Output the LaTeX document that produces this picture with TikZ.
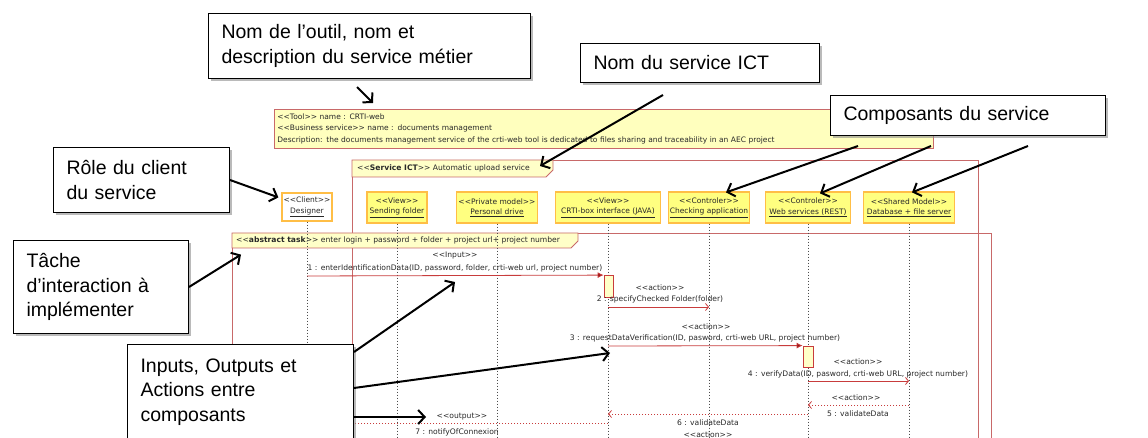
\documentclass[tikz,border=0pt]{standalone}
\usepackage{fontspec}
\setmainfont{Liberation Sans}
\newfontfamily\tahoma{DejaVu Sans}
\usetikzlibrary{arrows.meta,shadows,calc}
\definecolor{frameC}{RGB}{200,105,105}
\definecolor{msgC}{RGB}{200,60,60}
\definecolor{headC}{RGB}{150,20,20}
\definecolor{tabfill}{RGB}{255,255,200}
\definecolor{toolfill}{RGB}{255,255,190}
\definecolor{llfill}{RGB}{255,255,128}
\definecolor{llborder}{RGB}{255,190,70}
\definecolor{shadowC}{RGB}{140,140,140}
\definecolor{txtC}{RGB}{40,40,40}
\newcommand\st[1]{<{}<#1>{}>}
\begin{document}
\begin{tikzpicture}[x=1pt,y=-1pt,
  callout/.style={draw=black, line width=1pt, fill=white, anchor=north west, inner xsep=13pt, inner ysep=0pt, align=left,
    drop shadow={shadow xshift=2.5pt,shadow yshift=-2.5pt,fill=shadowC,opacity=0.6},
    font=\fontsize{19.5}{24.5}\selectfont},
  callarrow/.style={draw=black, line width=2pt, -{Straight Barb[length=6.5pt,width=14pt]}},
  frame/.style={draw=frameC, line width=0.8pt},
  small/.style={font=\tahoma\fontsize{7.6}{9}\selectfont, text=txtC, inner sep=0pt},
  tabtext/.style={font=\tahoma\fontsize{7.6}{9}\selectfont, text=txtC, inner sep=0pt, anchor=west},
  llbox/.style={draw=llborder, fill=llfill, line width=1.2pt, minimum height=31pt, align=center, inner sep=1pt,
    font=\tahoma\fontsize{7.5}{10.5}\selectfont, text=txtC},
  lifeline/.style={draw=black!70, line width=0.7pt, dash pattern=on 1.5pt off 1.5pt},
  msg/.style={draw=msgC, line width=0.8pt},
  sync/.style={msg, -{Latex[length=6pt,width=6pt,fill=headC]}},
  async/.style={msg, -{Straight Barb[length=3pt,width=7pt]}},
  ret/.style={msg, dash pattern=on 1.5pt off 1.5pt, -{Straight Barb[length=3pt,width=7pt]}},
  act/.style={draw=msgC, fill=tabfill, line width=0.8pt, inner sep=0pt}
]
\useasboundingbox (0,0) rectangle (1148,438);
\clip (0,0) rectangle (1148,438);
\coordinate (bottom) at (0,450);

% tool box
\node[draw=frameC, line width=0.8pt, fill=toolfill, anchor=north west, minimum width=659pt, minimum height=39pt,
  text width=653pt, inner xsep=3pt, inner ysep=0pt, align=left, font=\tahoma\fontsize{7.5}{11.5}\selectfont, text=txtC] (tool) at (274,109)
  {\st{Tool} name : CRTI-web\\
   \st{Business service} name : documents management\\
   Description: the documents management service of the crti-web tool is dedicated to files sharing and traceability in an AEC project};

% Service ICT frame
\draw[frame] (352,160) rectangle (978,450);
\draw[frame, fill=tabfill] (352,160) -- (553,160) -- (553,170) -- (546,177) -- (352,177) -- cycle;
\node[tabtext] (ictlabel) at (357,168.5) {\st{\textbf{Service ICT}} Automatic upload service};

% abstract task frame
\draw[frame] (232,233) rectangle (991,450);
\draw[frame, fill=tabfill] (232,233) -- (578,233) -- (578,241) -- (571,248) -- (232,248) -- cycle;
\node[tabtext] (tasklabel) at (236,240.5) {\st{\textbf{abstract task}} enter login + password + folder + project url+ project number};

% lifeline heads
\node[llbox, fill=white, minimum width=50pt, minimum height=28pt] (designer) at (307,207) {\st{Client}\\\underline{Designer}};
\node[llbox, minimum width=60pt] (sf) at (397,207.5) {\st{View}\\\underline{Sending folder}};
\node[llbox, minimum width=81pt] (pd) at (497,207.5) {\st{Private model}\\\underline{Personal drive}};
\node[llbox, minimum width=105pt] (crti) at (608,207.5) {\st{View}\\\underline{CRTI-box interface (JAVA)}};
\node[llbox, minimum width=81pt] (chk) at (709,207.5) {\st{Controler}\\\underline{Checking application}};
\node[llbox, minimum width=85pt] (ws) at (808,207.5) {\st{Controler}\\\underline{Web services (REST)}};
\node[llbox, minimum width=91pt] (db) at (909,207.5) {\st{Shared Model}\\\underline{Database + file server}};

\foreach \n in {designer,sf,pd,crti,chk,ws,db}
  \draw[lifeline] (\n.south) -- (\n.south |- bottom);

% activations
\node[act, minimum width=9pt, minimum height=22pt] (act1) at (608.5,286.5) {};
\node[act, minimum width=10pt, minimum height=21pt] (act3) at (808,356.5) {};

% messages
\coordinate (m1) at (0,276);
\draw[sync] (designer |- m1) -- (act1.north west);
\node[small] (l1a) at (455,256) {\st{Input}};
\node[small] (l1b) at (455,268) {1 : enterIdentificationData(ID, password, folder, crti-web url, project number)};

\coordinate (m2) at (0,307);
\draw[async] (crti |- m2) -- (chk |- m2);
\node[small] (l2a) at (660,288) {\st{action}};
\node[small] (l2b) at (660,299.5) {2 : specifyChecked Folder(folder)};

\coordinate (m3) at (0,346);
\draw[sync] (crti |- m3) -- (act3.north west);
\node[small] (l3a) at (706,327) {\st{action}};
\node[small] (l3b) at (705,338.5) {3 : requestDataVerification(ID, pasword, crti-web URL, project number)};

\coordinate (m4) at (0,381);
\draw[async] (ws |- m4) -- (db |- m4);
\node[small] (l4a) at (858,362) {\st{action}};
\node[small] (l4b) at (858,374) {4 : verifyData(ID, pasword, crti-web URL, project number)};

\coordinate (m5) at (0,405);
\draw[ret] (db |- m5) -- (ws |- m5);
\node[small] (l5a) at (856,398) {\st{action}};
\node[small] (l5b) at (858,414) {5 : validateData};

\coordinate (m6) at (0,414);
\draw[ret] (ws |- m6) -- (crti |- m6);
\node[small] (l6a) at (708,423) {6 : validateData};
\node[small] (l6b) at (708,435) {\st{action}};

\coordinate (m7) at (0,423);
\draw[ret] (crti |- m7) -- (designer |- m7);
\node[small] (l7a) at (462,416.5) {\st{output}};
\node[small] (l7b) at (457,432) {7 : notifyOfConnexion};

% callouts
\node[callout, minimum width=322pt, minimum height=65pt, text width=296pt] (outil) at (208,13) {Nom de l’outil, nom et\\description du service métier};
\node[callout, minimum width=239pt, minimum height=39pt, text width=213pt] (ict) at (580,43) {Nom du service ICT};
\node[callout, minimum width=275pt, minimum height=40pt, text width=249pt] (comp) at (830,95) {Composants du service};
\node[callout, minimum width=176pt, minimum height=65pt, text width=150pt] (role) at (53,147) {Rôle du client\\du service};
\node[callout, minimum width=175pt, minimum height=93pt, text width=149pt] (tache) at (13,240) {Tâche\\d’interaction à\\implémenter};
\node[callout, minimum width=226pt, minimum height=95pt, text width=200pt] (inputs) at (127,344) {Inputs, Outputs et\\Actions entre\\composants};

% callout arrows
\coordinate (o1) at (357,87);   \coordinate (o2) at (373,103);
\draw[callarrow] (o1) -- (o2);
\coordinate (i1) at (663,95);   \coordinate (i2) at (540,166);
\draw[callarrow] (i1) -- (i2);
\coordinate (c1) at (858,146);  \draw[callarrow] (c1) -- ([xshift=17pt,yshift=-1pt]chk.north);
\coordinate (c2) at (931,146);  \draw[callarrow] (c2) -- ([xshift=12pt,yshift=-2pt]ws.north);
\coordinate (c3) at (1028,146); \draw[callarrow] (c3) -- ([xshift=3pt,yshift=-1pt]db.north);
\draw[callarrow] (role.east) -- ([xshift=-3pt,yshift=-5pt]designer.north west);
\draw[callarrow] (tache.east) -- ([xshift=5pt,yshift=-18pt]tasklabel.north west);
\coordinate (t1) at (455,282);  \coordinate (t2) at (610,353); \coordinate (t3) at (426,417);
\draw[callarrow] ([yshift=-8pt]inputs.north east) -- (t1);
\draw[callarrow] ([yshift=-44pt]inputs.north east) -- (t2);
\draw[callarrow] ([yshift=-73pt]inputs.north east) -- (t3);
\end{tikzpicture}
\end{document}
